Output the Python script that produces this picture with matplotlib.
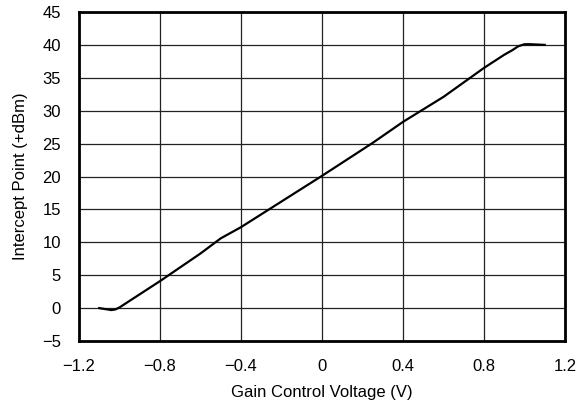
import matplotlib.pyplot as plt
import numpy as np

plt.rcParams['font.family'] = ['Liberation Sans', 'DejaVu Sans']

# Gain control voltage (V) vs intercept point (+dBm)
voltage = [-1.10, -1.07, -1.04, -1.02, -1.00, -0.98, -0.80, -0.60, -0.50,
           -0.40, -0.20, 0.00, 0.25, 0.40, 0.60, 0.80, 0.90, 0.94, 0.97,
           1.00, 1.03, 1.10]
intercept = [0.0, -0.15, -0.3, -0.2, 0.1, 0.5, 4.1, 8.3, 10.6,
             12.3, 16.2, 20.1, 25.1, 28.3, 32.1, 36.5, 38.5, 39.2, 39.8,
             40.1, 40.1, 40.0]

x_ticks = [-1.2, -0.8, -0.4, 0, 0.4, 0.8, 1.2]
x_labels = ['\u22121.2', '\u22120.8', '\u22120.4', '0', '0.4', '0.8', '1.2']
y_ticks = list(range(-5, 50, 5))

fig = plt.figure(figsize=(5.79, 4.08), dpi=100)
ax = fig.add_axes([0.1364, 0.1642, 0.8394, 0.8064])

ax.plot(voltage, intercept, color='black', linewidth=1.6, zorder=3)

ax.set_xlim(-1.2, 1.2)
ax.set_ylim(-5, 45)
ax.set_xticks(x_ticks)
ax.set_xticklabels(x_labels)
ax.set_yticks(y_ticks)
ax.grid(True, color='#222222', linewidth=0.9)
ax.tick_params(axis='x', length=0, labelsize=12, pad=13)
ax.tick_params(axis='y', length=0, labelsize=12, pad=13)

for s in ax.spines.values():
    s.set_linewidth(2)

ax.set_xlabel('Gain Control Voltage (V)', fontsize=12, labelpad=8)
ax.set_ylabel('Intercept Point (+dBm)', fontsize=12, labelpad=10)

plt.savefig('out.png', dpi=100)
